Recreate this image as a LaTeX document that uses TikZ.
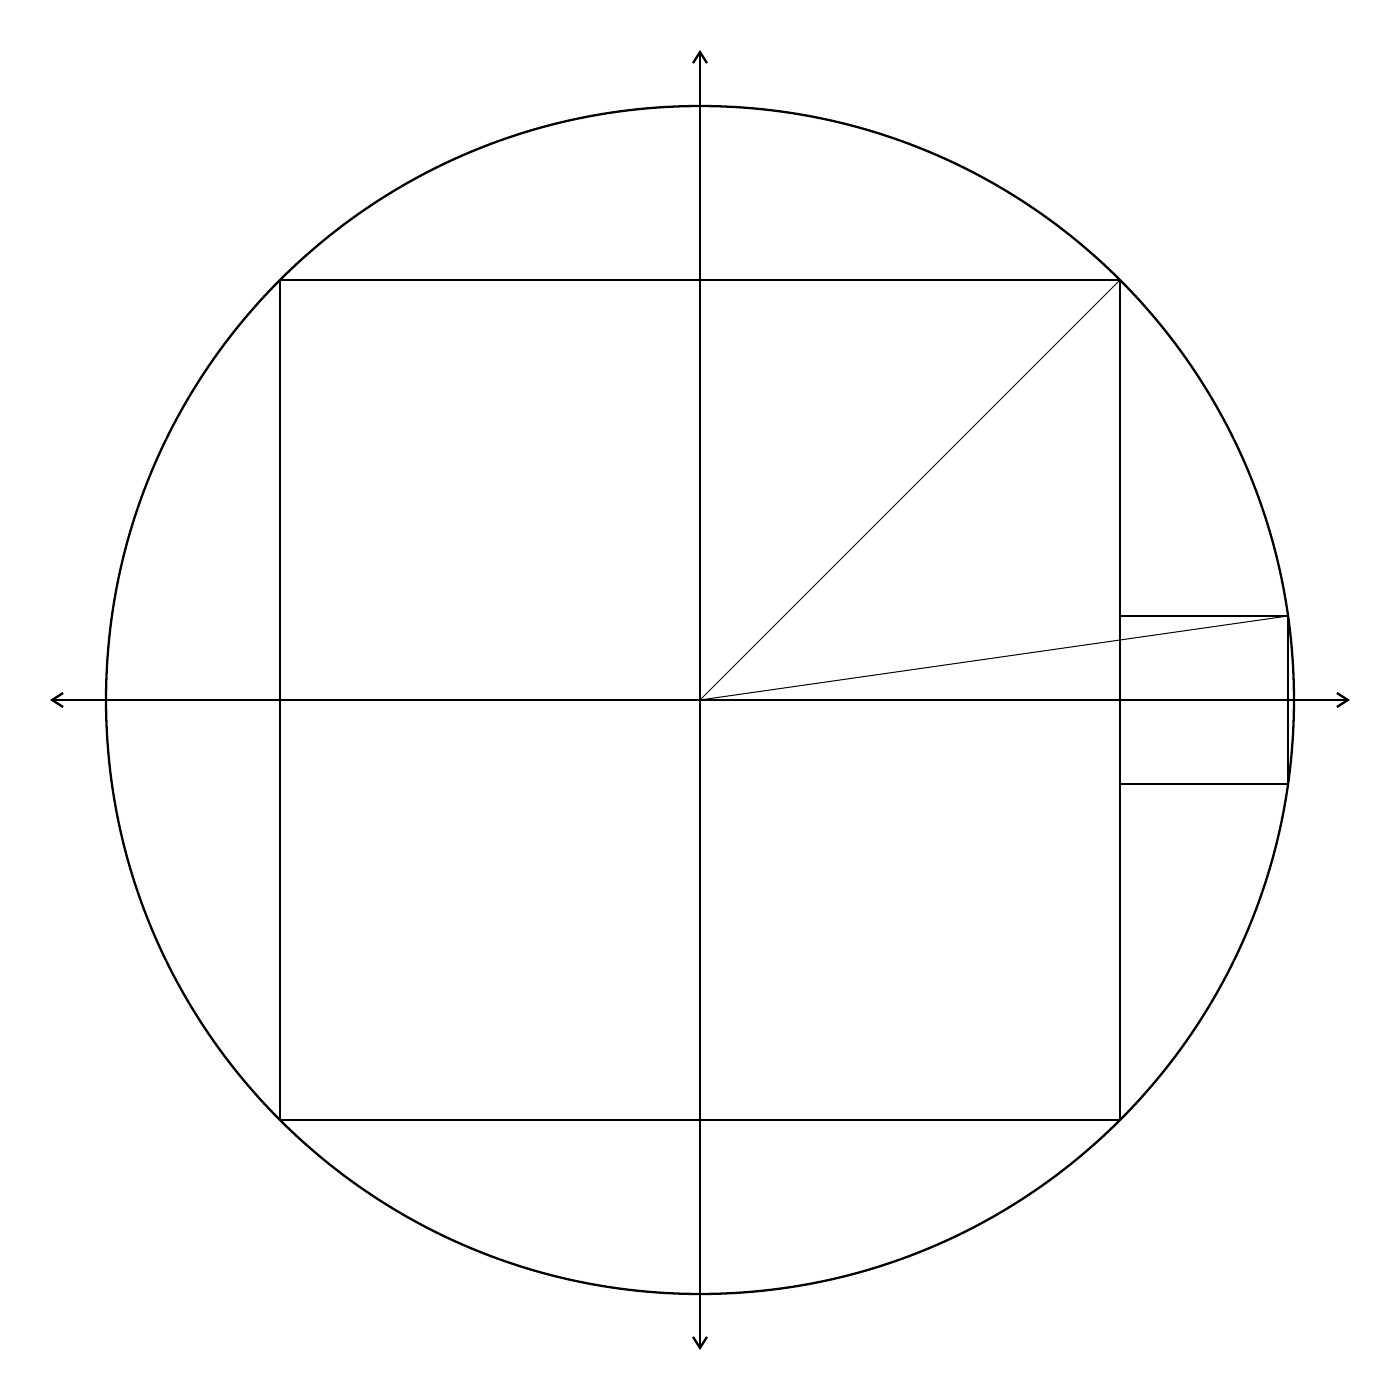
\documentclass[tikz,border=0pt]{standalone}
\usetikzlibrary{arrows.meta}
\begin{document}
\begin{tikzpicture}[
  mainline/.style={line width=0.65pt, black},
  thinline/.style={line width=0.3pt, black},
  axistip/.tip={Straight Barb[length=1.1mm,width=1.4mm]},
  axisline/.style={line width=0.65pt, black, axistip-axistip}
]
\useasboundingbox (-7,-7) rectangle (7,7);
\coordinate (O) at (0,0);
\coordinate (xl) at (-6.5,0);
\coordinate (xr) at (6.5,0);
\coordinate (yb) at (0,-6.5);
\coordinate (yt) at (0,6.5);
\coordinate (A) at (-4.2,-4.2);
\coordinate (C) at (4.2,4.2);
\coordinate (P) at (4.2,0.84);
\coordinate (Q) at (5.88,-0.84);
\coordinate (Pr) at (5.88,0.84);
\draw[mainline] (O) circle ({4.2*sqrt(2)});
\draw[mainline] (A) rectangle (C);
\draw[mainline] (P) -- (Pr) -- (Q) -- (4.2,-0.84);
\draw[axisline] (xl) -- (xr);
\draw[axisline] (yb) -- (yt);
\draw[thinline] (O) -- (C);
\draw[thinline] (O) -- (Pr);
\end{tikzpicture}
\end{document}
